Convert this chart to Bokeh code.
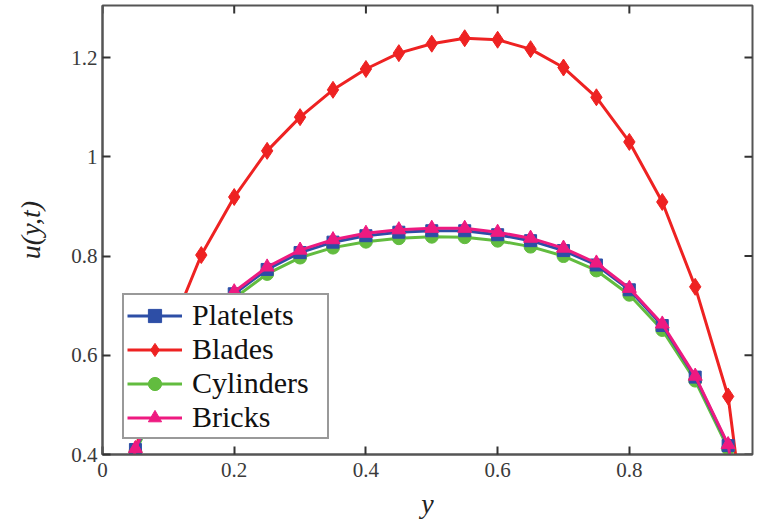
import math
from bokeh.plotting import figure
from bokeh.models import FixedTicker, Range1d, Legend, LegendItem
from bokeh.embed import file_html
from bokeh.resources import INLINE

# ---- data ----
y_pos = [0.05, 0.10, 0.15, 0.20, 0.25, 0.30, 0.35, 0.40, 0.45, 0.50,
         0.55, 0.60, 0.65, 0.70, 0.75, 0.80, 0.85, 0.90, 0.95]
platelets = [0.410, 0.555, 0.655, 0.724, 0.773, 0.807, 0.828, 0.841, 0.848, 0.851,
             0.851, 0.843, 0.831, 0.811, 0.782, 0.732, 0.660, 0.556, 0.418]
blades = [0.410, 0.640, 0.802, 0.919, 1.012, 1.080, 1.135, 1.177, 1.209, 1.228,
          1.239, 1.236, 1.217, 1.180, 1.120, 1.030, 0.909, 0.738, 0.517]
cylinders = [0.405, 0.550, 0.648, 0.715, 0.764, 0.797, 0.817, 0.829, 0.836, 0.839,
             0.838, 0.831, 0.819, 0.800, 0.771, 0.722, 0.651, 0.549, 0.412]
bricks = [0.412, 0.560, 0.660, 0.728, 0.778, 0.812, 0.833, 0.846, 0.853, 0.856,
          0.856, 0.848, 0.836, 0.816, 0.786, 0.735, 0.663, 0.558, 0.420]
wall_y = [0.0, 1.0]      # channel walls
wall_u = 0.0             # no-slip velocity at the walls

names = ["Platelets", "Blades", "Cylinders", "Bricks"]
x_ticks = [0, 0.2, 0.4, 0.6, 0.8]
y_ticks = [0.4, 0.6, 0.8, 1.0, 1.2]

X_END = 0.987
Y_START, Y_END = 0.4, 1.305

FONT = "Liberation Serif"
AX = "#555555"
TICK = "#333333"

p = figure(width=755, height=521, output_backend="svg", toolbar_location=None,
           x_range=Range1d(0, X_END), y_range=Range1d(Y_START, Y_END),
           min_border_left=102, min_border_right=3, min_border_top=5, min_border_bottom=66)
p.background_fill_color = "white"
p.border_fill_color = "white"
p.outline_line_color = AX
p.outline_line_width = 2
p.xgrid.visible = False
p.ygrid.visible = False

for ax, ticks in ((p.xaxis[0], x_ticks), (p.yaxis[0], y_ticks)):
    ax.ticker = FixedTicker(ticks=ticks)
    ax.minor_tick_line_color = None
    ax.major_tick_in = 8
    ax.major_tick_out = 0
    ax.major_tick_line_color = TICK
    ax.major_tick_line_width = 2
    ax.axis_line_color = AX
    ax.axis_line_width = 2
    ax.major_label_text_font = FONT
    ax.major_label_text_color = "#3a3a3a"
    ax.major_label_text_font_size = "21px"
    ax.axis_label_text_font = FONT
    ax.axis_label_text_font_style = "italic"
    ax.axis_label_text_font_size = "28px"
    ax.axis_label_text_color = "#222222"

p.xaxis[0].major_label_overrides = {0: "0"}
p.yaxis[0].major_label_overrides = {1.0: "1"}
p.xaxis[0].major_label_standoff = 8
p.yaxis[0].major_label_standoff = 5
p.xaxis[0].axis_label = "y"
p.yaxis[0].axis_label = "u(y,t)"
p.xaxis[0].axis_label_standoff = 8
p.yaxis[0].axis_label_standoff = 22

# tick marks on the top and right edges of the frame (inward)
p.ray(x=x_ticks, y=[Y_END] * len(x_ticks), length=8, length_units="screen",
      angle=-math.pi / 2, line_color=TICK, line_width=2)
p.ray(x=[X_END] * len(y_ticks), y=y_ticks, length=8, length_units="screen",
      angle=math.pi, line_color=TICK, line_width=2)

colors = ["#2d4ea6", "#ee2222", "#62bc3f", "#ee1a80"]
markers = ["square", "diamond", "circle", "triangle"]
sizes = [12, 17, 13, 14]
series = [platelets, blades, cylinders, bricks]

renderers = {}
for idx in [1, 2, 0, 3]:
    vals = series[idx]
    lx = [wall_y[0]] + y_pos + [wall_y[1]]
    ly = [wall_u] + vals + [wall_u]
    ln = p.line(lx, ly, line_color=colors[idx], line_width=3)
    sc = p.scatter(y_pos, vals, marker=markers[idx], size=sizes[idx],
                   fill_color=colors[idx], line_color=colors[idx])
    renderers[idx] = [ln, sc]

items = [LegendItem(label=names[i], renderers=renderers[i]) for i in range(4)]
legend = Legend(items=items, location=(20, 15))
legend.label_text_font = FONT
legend.label_text_font_size = "30px"
legend.label_text_color = "#111111"
legend.glyph_width = 55
legend.glyph_height = 33
legend.label_height = 33
legend.label_width = 132
legend.label_standoff = 10
legend.spacing = 0
legend.padding = 3
legend.margin = 0
legend.border_line_color = "#333333"
legend.border_line_width = 2
legend.background_fill_color = "white"
legend.background_fill_alpha = 1.0
p.add_layout(legend, "center")

open("out.html", "w").write(file_html(p, INLINE))
